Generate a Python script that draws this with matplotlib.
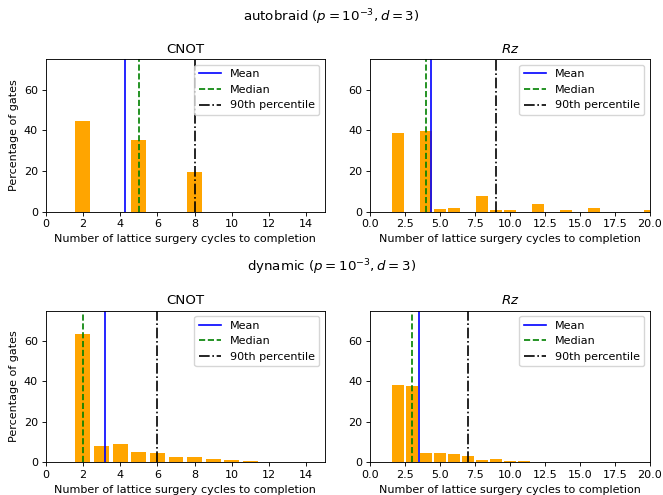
import matplotlib
matplotlib.use("Agg")
import matplotlib.pyplot as plt
import numpy as np

# Data
ab_cnot_x = [2, 5, 8]
ab_cnot_y = [44.7, 35.3, 19.5]
ab_cnot_stats = (4.25, 5, 8)  # mean, median, 90th

ab_rz_x = [2, 4, 5, 6, 8, 9, 10, 12, 14, 16, 20]
ab_rz_y = [38.8, 39.7, 1.2, 1.6, 7.6, 0.6, 0.6, 3.6, 0.6, 1.6, 0.6]
ab_rz_stats = (4.35, 4, 9)

dy_cnot_x = [2, 3, 4, 5, 6, 7, 8, 9, 10, 11, 12]
dy_cnot_y = [63.5, 8.0, 9.1, 5.2, 4.6, 2.7, 2.7, 1.7, 1.2, 0.7, 0.2]
dy_cnot_stats = (3.2, 2, 6)

dy_rz_x = [2, 3, 4, 5, 6, 7, 8, 9, 10, 11]
dy_rz_y = [38.2, 37.7, 4.6, 4.6, 4.1, 3.1, 1.1, 1.6, 0.6, 0.6]
dy_rz_stats = (3.5, 3, 7)

s = 0.8
plt.rcParams.update({
    "font.size": 10 * s,
    "axes.linewidth": 0.8 * s,
    "xtick.major.width": 0.8 * s,
    "ytick.major.width": 0.8 * s,
    "xtick.major.size": 3.5 * s,
    "ytick.major.size": 3.5 * s,
    "xtick.major.pad": 3.5 * s,
    "ytick.major.pad": 3.5 * s,
    "axes.titlepad": 6 * s,
    "axes.labelpad": 4 * s,
})

fig = plt.figure(figsize=(6.63, 4.95), dpi=100)

L1, R1 = 45.7 / 663, 325 / 663
L2, R2 = 370 / 663, 650 / 663
T1, B1 = 1 - 59.3 / 495, 1 - 211.7 / 495
T2, B2 = 1 - 310.7 / 495, 1 - 462.3 / 495

panels = [
    ([L1, B1, R1 - L1, T1 - B1], ab_cnot_x, ab_cnot_y, ab_cnot_stats, "CNOT", 15, 2, True),
    ([L2, B1, R2 - L2, T1 - B1], ab_rz_x, ab_rz_y, ab_rz_stats, "$Rz$", 20, 2.5, False),
    ([L1, B2, R1 - L1, T2 - B2], dy_cnot_x, dy_cnot_y, dy_cnot_stats, "CNOT", 15, 2, True),
    ([L2, B2, R2 - L2, T2 - B2], dy_rz_x, dy_rz_y, dy_rz_stats, "$Rz$", 20, 2.5, False),
]

for rect, xs, ys, stats, title, xmax, step, ylab in panels:
    ax = fig.add_axes(rect)
    ax.bar(xs, ys, width=0.8, color="orange")
    mean, med, p90 = stats
    ax.axvline(mean, color="blue", linestyle="-", linewidth=1.5 * s, label="Mean")
    ax.axvline(med, color="green", linestyle="--", linewidth=1.5 * s, label="Median")
    ax.axvline(p90, color="black", linestyle="-.", linewidth=1.5 * s, label="90th percentile")
    ax.set_xlim(0, xmax)
    ax.set_ylim(0, 75)
    ax.set_yticks([0, 20, 40, 60])
    ticks = np.arange(0, xmax + 0.01, step)
    ax.set_xticks(ticks)
    if step == 2:
        ax.set_xticklabels([f"{int(t)}" for t in ticks])
    else:
        ax.set_xticklabels([f"{t:.1f}" for t in ticks])
    ax.set_title(title, fontsize=12 * s)
    ax.set_xlabel("Number of lattice surgery cycles to completion")
    if ylab:
        ax.set_ylabel("Percentage of gates")
    ax.legend(loc="upper right")

fig.text(0.5, 1 - 17 / 495, "autobraid ($p=10^{-3}, d=3$)", ha="center", va="center", fontsize=12 * s)
fig.text(0.5, 1 - 267 / 495, "dynamic ($p=10^{-3}, d=3$)", ha="center", va="center", fontsize=12 * s)

fig.savefig("out.png", dpi=100)
